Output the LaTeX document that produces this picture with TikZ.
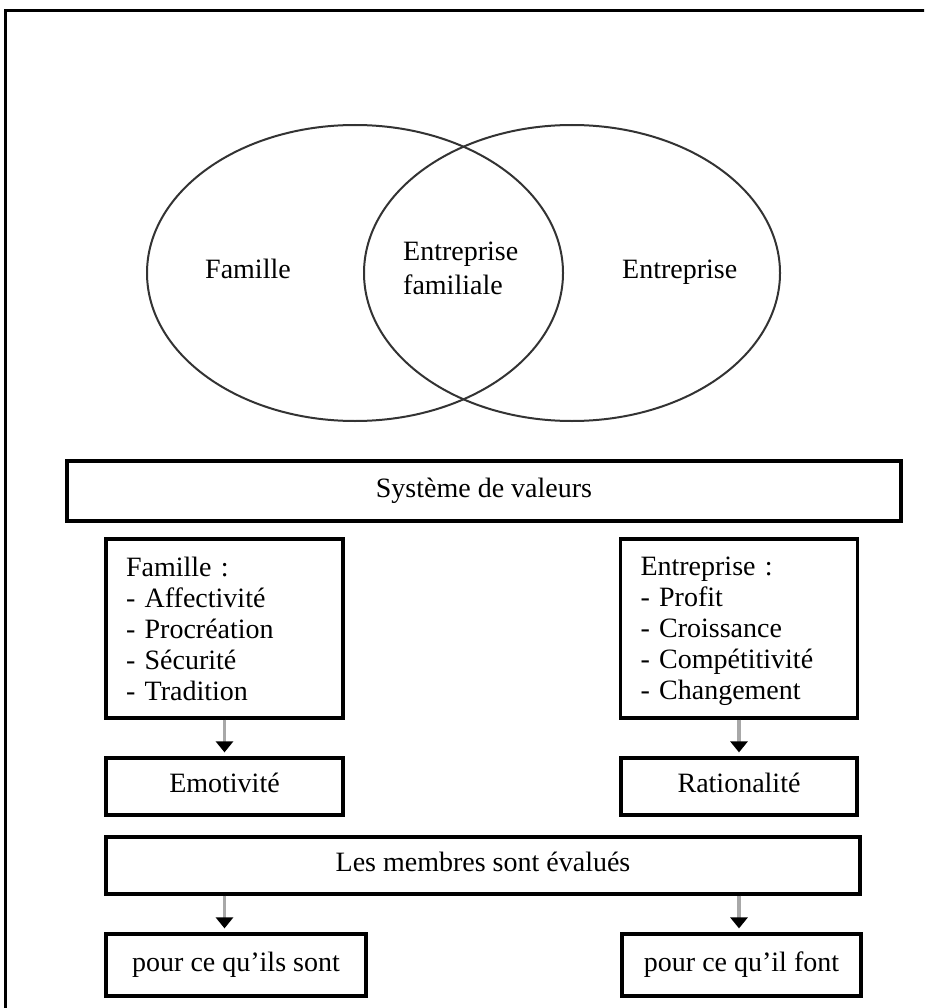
\documentclass[tikz,border=0pt]{standalone}
\usepackage{fontspec}
\setmainfont{Liberation Serif}
\usetikzlibrary{shapes.geometric,arrows.meta}
\definecolor{shaft}{HTML}{A8A8A8}
\newcommand{\nodepth}[1]{\raisebox{0pt}[\height][0pt]{#1}}
\tikzset{
  txt/.style={font=\fontsize{28}{31}\selectfont, inner sep=0pt},
  box/.style={draw=black, line width=3.2pt, txt, text height=19pt, text depth=7pt},
  listbox/.style={draw=black, line width=3.2pt, font=\fontsize{28}{31}\selectfont,
     align=left, inner xsep=20pt, inner ysep=0pt, minimum width=237pt, minimum height=179pt,
     text width=197pt},
  venn/.style={ellipse, draw=black!80, line width=2pt, minimum width=416pt, minimum height=296pt, inner sep=0pt},
  flow/.style={draw=shaft, line width=3.2pt, shorten >=4pt,
     -{Triangle[color=black, width=17pt, length=11pt]}}
}
\begin{document}
\begin{tikzpicture}[x=1pt,y=-1pt]
\useasboundingbox (0,0) rectangle (924,1008);
\clip (0,0) rectangle (924,1008);
\draw[line width=3.5pt] (5.5,1040) -- (5.5,10.5) -- (960,10.5);
% Venn
\node[venn] (famE) at (355,273) {};
\node[venn] (entE) at (572,273) {};
\node[txt, anchor=base west] (famL) at (205,278) {Famille};
\node[txt, anchor=base west] (entL) at (622,278) {Entreprise};
\node[txt, anchor=west, align=left, font=\fontsize{28}{34}\selectfont] (efL) at (403,268) {Entreprise\\familiale};
% boxes
\node[box, minimum width=834pt, minimum height=60pt] (sys) at (484,491) {Système de valeurs};
\node[listbox] (fam) at (224.5,628.5) {Famille :\\- Affectivité\\- Procréation\\- Sécurité\\- Tradition};
\node[listbox] (ent) at (739,628.5) {Entreprise :\\- Profit\\- Croissance\\- Compétitivité\\- \nodepth{Changement}};
\node[box, minimum width=237pt, minimum height=57pt] (emo) at (224.5,786.5) {Emotivité};
\node[box, minimum width=236pt, minimum height=57pt] (rat) at (739,786.5) {Rationalité};
\node[box, minimum width=754pt, minimum height=57pt] (mem) at (483,865.5) {Les membres sont évalués};
\node[box, minimum width=260pt, minimum height=62pt] (lo) at (236,965) {pour ce qu'ils sont};
\node[box, minimum width=239pt, minimum height=62pt] (ro) at (741.5,965) {pour ce qu'il font};
% arrows
\draw[flow] (fam.south) -- (emo.north);
\draw[flow] (ent.south) -- (rat.north);
\draw[flow] (mem.south -| fam.south) -- (lo.north -| fam.south);
\draw[flow] (mem.south -| ent.south) -- (ro.north -| ent.south);
\end{tikzpicture}
\end{document}
